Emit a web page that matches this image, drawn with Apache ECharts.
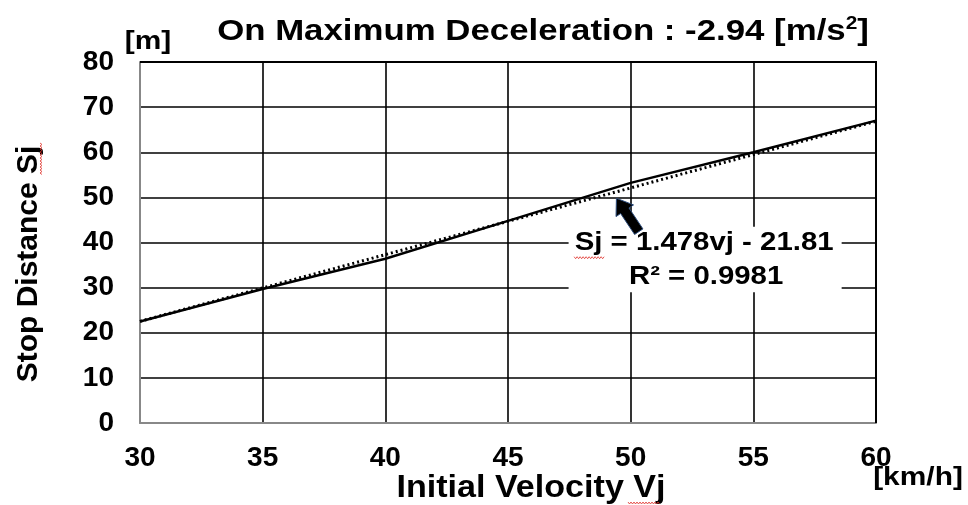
<!DOCTYPE html>
<html>
<head>
<meta charset="utf-8">
<script src="https://cdn.jsdelivr.net/npm/echarts@6/dist/echarts.min.js"></script>
<style>
  html, body { margin: 0; padding: 0; background: #fff; }
  #chart { width: 968px; height: 505px; }
</style>
</head>
<body>
<div id="chart"></div>
<script>
// Initial velocity samples [km/h] and measured stop distances [m]
const velocities = [30, 35, 40, 45, 50, 55, 60];
const stopDistances = [22.5, 29.7, 36.4, 44.8, 53.2, 60.0, 67.0];

// Linear fit shown in the annotation
const fitSlope = 1.478;
const fitIntercept = -21.81;
const fitR2 = 0.9981;
const fitRange = [30, 60];

// Axis ticks
const xTicks = { min: 30, max: 60, step: 5 };
const yTicks = { min: 0, max: 80, step: 10 };

const FONT = '"Liberation Sans", Arial, sans-serif';
// captions are drawn slightly widened
const WIDE = 1.15;

const measured = velocities.map((v, i) => [v, stopDistances[i]]);
const fitLine = fitRange.map(v => [v, fitSlope * v + fitIntercept]);

const chart = echarts.init(document.getElementById('chart'), null, { renderer: 'canvas' });

const option = {
  backgroundColor: '#fff',
  animation: false,
  grid: { left: 140, right: 92, top: 62, bottom: 82, containLabel: false },
  xAxis: {
    type: 'value',
    min: xTicks.min,
    max: xTicks.max,
    interval: xTicks.step,
    axisLine: { show: true, onZero: false, lineStyle: { color: '#888', width: 2 } },
    axisTick: { show: false },
    axisLabel: { margin: 21, fontFamily: FONT, fontWeight: 'bold', fontSize: 28, color: '#000' },
    splitLine: { show: true, lineStyle: { color: '#000', width: 1.6 } }
  },
  yAxis: {
    type: 'value',
    min: yTicks.min,
    max: yTicks.max,
    interval: yTicks.step,
    axisLine: { show: true, lineStyle: { color: '#888', width: 2 } },
    axisTick: { show: false },
    axisLabel: { margin: 26, fontFamily: FONT, fontWeight: 'bold', fontSize: 28, color: '#000' },
    splitLine: { show: true, lineStyle: { color: '#000', width: 1.6 } }
  },
  series: [
    {
      name: 'Linear fit',
      type: 'line',
      data: fitLine,
      symbol: 'none',
      lineStyle: { color: '#000', width: 3, type: [2, 3] },
      z: 3
    },
    {
      name: 'Stop distance',
      type: 'line',
      data: measured,
      symbol: 'none',
      lineStyle: { color: '#000', width: 2.4 },
      z: 4
    }
  ]
};

chart.setOption(option);

// Overlay: title, border on top/right of the plot, axis captions, annotation box and arrow
function drawOverlay() {
  const px = p => chart.convertToPixel({ gridIndex: 0 }, p);
  const tl = px([xTicks.min, yTicks.max]);
  const br = px([xTicks.max, yTicks.min]);

  // annotation box
  const boxA = px([47.47, 43.5]);
  const boxB = px([58.6, 29.0]);
  const boxCx = (boxA[0] + boxB[0]) / 2;

  // arrow geometry (tip and tail in data space)
  const tip = px([49.42, 49.8]);
  const tail = px([50.33, 42.4]);
  const dx = tip[0] - tail[0], dy = tip[1] - tail[1];
  const len = Math.hypot(dx, dy);
  const ux = dx / len, uy = dy / len;
  const nx = -uy, ny = ux;
  const headLen = 15, headW = 10.5, shaftW = 5;
  const hb = [tip[0] - ux * headLen, tip[1] - uy * headLen];
  const arrowPts = [
    [tail[0] + nx * shaftW, tail[1] + ny * shaftW],
    [hb[0] + nx * shaftW, hb[1] + ny * shaftW],
    [hb[0] + nx * headW, hb[1] + ny * headW],
    tip,
    [hb[0] - nx * headW, hb[1] - ny * headW],
    [hb[0] - nx * shaftW, hb[1] - ny * shaftW],
    [tail[0] - nx * shaftW, tail[1] - ny * shaftW]
  ];

  const line1Y = boxA[1] + 16;
  const line2Y = boxA[1] + 50;

  function squiggle(x0, y0, w, vertical) {
    const pts = [];
    for (let i = 0; i <= w; i += 1.5) {
      const o = (Math.round(i / 1.5) % 2) ? 1 : -1;
      pts.push(vertical ? [x0 + o, y0 + i] : [x0 + i, y0 + o]);
    }
    return {
      type: 'polyline', silent: true, z: 20,
      shape: { points: pts },
      style: { stroke: '#e0302a', lineWidth: 0.8, fill: null }
    };
  }

  function caption(text, x, y, size, extra) {
    return Object.assign({
      type: 'text', z: 11, x: x, y: y, scaleX: WIDE,
      style: { text: text, font: 'bold ' + size + 'px ' + FONT, fill: '#000', align: 'center', verticalAlign: 'middle' }
    }, extra || {});
  }

  chart.setOption({
    graphic: [
      {
        type: 'text', z: 11, x: 543, y: 29, scaleX: 1.16,
        style: {
          text: '{a|On Maximum Deceleration : -2.94 [m/s}{s|2}{a|]}',
          align: 'center', verticalAlign: 'middle',
          rich: {
            a: { font: 'bold 30px ' + FONT, fill: '#000', lineHeight: 36, verticalAlign: 'bottom' },
            s: { font: 'bold 18px ' + FONT, fill: '#000', lineHeight: 36, verticalAlign: 'top', padding: [4, 0, 0, 0] }
          }
        }
      },
      {
        type: 'polyline', z: 10, silent: true,
        shape: { points: [[tl[0], tl[1]], [br[0], tl[1]], [br[0], br[1]]] },
        style: { stroke: '#000', lineWidth: 2, fill: null }
      },
      caption('[m]', 148, 42, 26),
      {
        type: 'text', z: 10, x: 29, y: 264, rotation: Math.PI / 2,
        style: { text: 'Stop Distance Sj', font: 'bold 30px ' + FONT, fill: '#000', align: 'center', verticalAlign: 'middle' }
      },
      caption('Initial Velocity Vj', 531, 488, 31, { scaleX: 1.1 }),
      caption('[km/h]', 918, 478, 26),
      {
        type: 'rect', z: 8, silent: true,
        shape: { x: boxA[0], y: boxA[1], width: boxB[0] - boxA[0], height: boxB[1] - boxA[1] },
        style: { fill: '#fff' }
      },
      caption('Sj = ' + fitSlope.toFixed(3) + 'vj - ' + Math.abs(fitIntercept).toFixed(2), boxCx - 1, line1Y, 26, { scaleX: 1.13 }),
      caption('R\u00b2 = ' + fitR2.toFixed(4), boxCx + 1, line2Y, 26, { scaleX: 1.13 }),
      {
        type: 'polygon', z: 12, silent: true,
        shape: { points: arrowPts },
        style: { fill: '#000', stroke: '#2a4a7a', lineWidth: 1 }
      },
      squiggle(boxCx - 131, line1Y + 15, 30, false),
      squiggle(628, 503, 32, false),
      squiggle(41, 143, 32, true)
    ]
  });
}

drawOverlay();
</script>
</body>
</html>
